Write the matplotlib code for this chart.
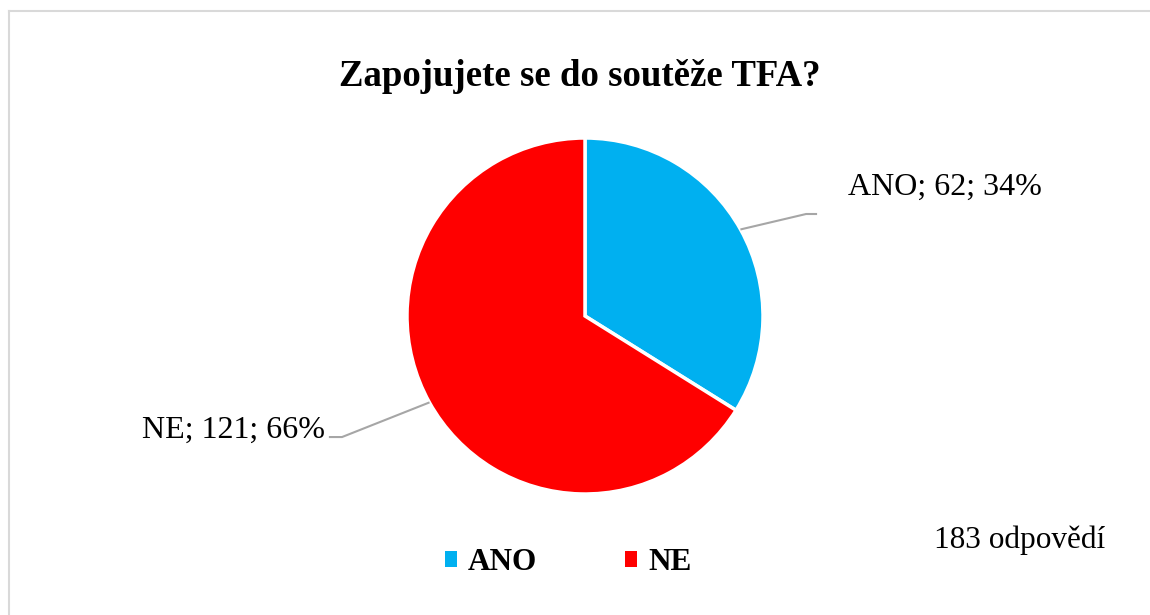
import numpy as np
import matplotlib
matplotlib.use('Agg')
import matplotlib.pyplot as plt
from matplotlib.lines import Line2D

labels = ['ANO', 'NE']
counts = [62, 121]
colors = ['#00B0F0', '#FF0000']
title = 'Zapojujete se do soutěže TFA?'
note = '183 odpovědí'

plt.rcParams['font.family'] = ['Liberation Serif', 'DejaVu Serif']

W, H = 1150, 615
fig = plt.figure(figsize=(W / 100, H / 100), dpi=100)

# frame lines (top and left only visible)
fig.add_artist(Line2D([8.5 / W, 1.0], [1 - 10.5 / H, 1 - 10.5 / H], color='#D9D9D9', lw=1.5))
fig.add_artist(Line2D([8.5 / W, 8.5 / W], [0, 1 - 10.5 / H], color='#D9D9D9', lw=1.5))

# pie axes: centre (585, 316), radius 178 px
cx, cy, r = 585, 316, 178
ax = fig.add_axes([(cx - r) / W, (H - cy - r) / H, 2 * r / W, 2 * r / H])
wedges, _ = ax.pie(counts, colors=colors, startangle=90, counterclock=False,
                   wedgeprops=dict(edgecolor='white', linewidth=2.5))
ax.set_xlim(-1, 1)
ax.set_ylim(-1, 1)
ax.set_aspect('auto')
ax.axis('off')

total = sum(counts)
# label positions (data units of the pie axes)
label_pos = [(1.478, 0.725, 'left'), (-1.461, -0.640, 'right')]
elbows = [(1.242, 0.573, 1.298), (-1.365, -0.680, -1.433)]
for w, lab, n, (tx, ty, ha), (ex, ey, ex2) in zip(wedges, labels, counts, label_pos, elbows):
    ang = np.deg2rad((w.theta1 + w.theta2) / 2)
    x0, y0 = np.cos(ang) * 1.005, np.sin(ang) * 1.005
    ax.plot([x0, ex, ex2], [y0, ey, ey], color='#A6A6A6', lw=1.5, clip_on=False)
    pct = round(n / total * 100)
    ax.text(tx, ty, f'{lab}; {n}; {pct}%', ha=ha, va='center', fontsize=23, clip_on=False)

fig.text(580 / W, 1 - 76 / H, title, ha='center', va='center', fontsize=26.5, fontweight='bold')
fig.text(1020 / W, 1 - 540 / H, note, ha='center', va='center', fontsize=22.5)

leg = fig.legend(wedges, labels, loc='center', bbox_to_anchor=(568 / W, 1 - 563 / H), ncol=2,
                 frameon=False, handlelength=0.4, handleheight=0.4, handletextpad=0.35,
                 columnspacing=2.8, prop=dict(size=22.5, weight='bold'))
for h in leg.legend_handles:
    h.set_edgecolor('none')

fig.savefig('out.png', dpi=100)
